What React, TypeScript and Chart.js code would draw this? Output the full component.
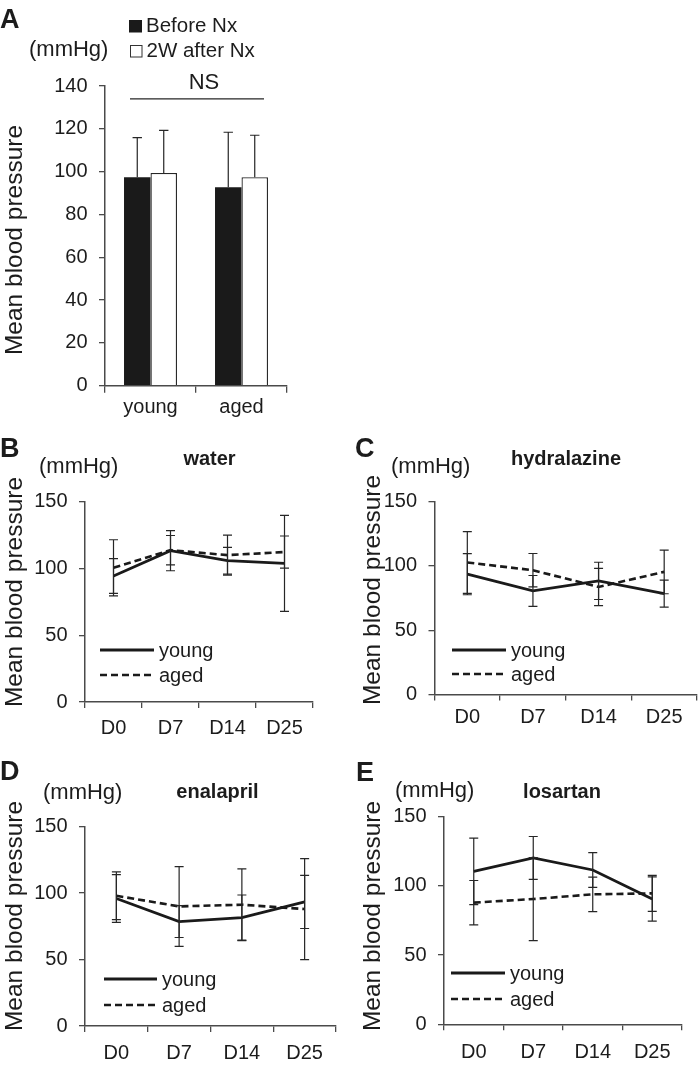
import React, { useEffect, useRef } from 'react';
import { Chart, registerables } from 'chart.js';

Chart.register(...registerables);

// ---------- DATA ----------
// Panel A
const groupLabels = ['young', 'aged'];
const barSeriesNames = ['Before Nx', '2W after Nx'];
const beforeMean = [97.4, 92.7];
const beforeSD = [18.5, 25.7];
const afterMean = [99.4, 97.4];
const afterSD = [19.9, 19.6];
const nsLabel = 'NS';
const nsLevel = 134;

// Panels B-E
const days = ['D0', 'D7', 'D14', 'D25'];
const lineSeriesNames = ['young', 'aged'];

const waterYoung = [94.3, 113.3, 105.8, 103.8];
const waterYoungSD = [13, 15, 10, 36];
const waterAged = [100.5, 113.7, 110, 112.3];
const waterAgedSD = [21, 11, 15, 12];

const hydralazineYoung = [93.6, 80.6, 88.4, 78.5];
const hydralazineYoungSD = [16, 12, 14.5, 10.5];
const hydralazineAged = [102.7, 96.7, 83.7, 95.4];
const hydralazineAgedSD = [24, 13, 14.5, 17];

const enalaprilYoung = [96, 78.6, 81.6, 93.4];
const enalaprilYoungSD = [18, 12, 17, 20];
const enalaprilAged = [98, 90, 91.3, 88];
const enalaprilAgedSD = [18, 30, 27, 38];

const losartanYoung = [110.5, 120.2, 111.5, 90.5];
const losartanYoungSD = [24, 15.5, 12.5, 16];
const losartanAged = [87.9, 90.5, 93.9, 94.6];
const losartanAgedSD = [16, 30, 12.5, 13];

const yTitle = 'Mean blood pressure';
const unitLabel = '(mmHg)';

// ---------- STYLE / LAYOUT ----------
const W = 698;
const H = 1066;
const FONT = "'Liberation Sans', Arial, Helvetica, sans-serif";
const TEXT = '#1c1c1c';
const AXIS = '#4a4a4a';
const INK = '#1a1a1a';

type Area = { left: number; top: number; right: number; bottom: number };

function drawText(
  ctx: CanvasRenderingContext2D,
  text: string,
  x: number,
  y: number,
  font: string,
  align: CanvasTextAlign = 'left',
  rotate = 0
) {
  ctx.save();
  ctx.fillStyle = TEXT;
  ctx.font = font;
  ctx.textAlign = align;
  ctx.textBaseline = 'alphabetic';
  ctx.translate(x, y);
  if (rotate) ctx.rotate(rotate);
  ctx.fillText(text, 0, 0);
  ctx.restore();
}

const errorBarPlugin = {
  id: 'errorBars',
  afterDatasetsDraw(chart: any, _args: any, opts: any) {
    const ctx = chart.ctx as CanvasRenderingContext2D;
    const ys = chart.scales.y;
    const cap = opts.cap ?? 4.5;
    chart.data.datasets.forEach((ds: any, i: number) => {
      const errs = ds.errors as number[] | undefined;
      if (!errs) return;
      const meta = chart.getDatasetMeta(i);
      ctx.save();
      ctx.strokeStyle = '#262626';
      ctx.lineWidth = 1.2;
      ctx.setLineDash([]);
      meta.data.forEach((el: any, j: number) => {
        const v = ds.data[j];
        const e = errs[j];
        const x = el.x;
        const yTop = ys.getPixelForValue(v + e);
        const yBot = opts.upOnly ? ys.getPixelForValue(v) : ys.getPixelForValue(v - e);
        ctx.beginPath();
        ctx.moveTo(x, yTop);
        ctx.lineTo(x, yBot);
        ctx.moveTo(x - cap, yTop);
        ctx.lineTo(x + cap, yTop);
        if (!opts.upOnly) {
          ctx.moveTo(x - cap, yBot);
          ctx.lineTo(x + cap, yBot);
        }
        ctx.stroke();
      });
      ctx.restore();
    });
  },
};

function axisOptions(area: Area, yMax: number, yStep: number, xPad: number, xTick: number) {
  const yWidth = 80;
  const xHeight = 50;
  return {
    layout: {
      padding: {
        left: area.left - yWidth,
        top: area.top,
        right: W - area.right,
        bottom: H - area.bottom - xHeight,
      },
    },
    scales: {
      x: {
        offset: true,
        afterFit: (s: any) => {
          s.height = xHeight;
        },
        grid: {
          offset: true,
          drawOnChartArea: false,
          drawTicks: true,
          tickLength: xTick,
          color: AXIS,
          lineWidth: 1.3,
        },
        border: { display: true, color: AXIS, width: 1.5 },
        ticks: {
          font: { family: FONT, size: 20 },
          color: TEXT,
          padding: xPad,
          autoSkip: false,
          maxRotation: 0,
        },
      },
      y: {
        min: 0,
        max: yMax,
        afterFit: (s: any) => {
          s.width = yWidth;
        },
        grid: {
          drawOnChartArea: false,
          drawTicks: true,
          tickLength: 6,
          color: AXIS,
          lineWidth: 1.3,
        },
        border: { display: true, color: AXIS, width: 1.5 },
        ticks: {
          stepSize: yStep,
          font: { family: FONT, size: 20 },
          color: TEXT,
          padding: 11.5,
        },
      },
    },
  };
}

function makeBarChart(canvas: HTMLCanvasElement) {
  const area: Area = { left: 105, top: 86, right: 287, bottom: 385.7 };
  const ax = axisOptions(area, 140, 20, 2.4, 7);
  const deco = {
    id: 'decoA',
    afterDraw(chart: any) {
      const ctx = chart.ctx as CanvasRenderingContext2D;
      drawText(ctx, 'A', 0, 28, `bold 27px ${FONT}`);
      drawText(ctx, unitLabel, 29, 56, `22px ${FONT}`);
      // legend
      ctx.save();
      ctx.fillStyle = INK;
      ctx.fillRect(129, 20, 13, 12.5);
      ctx.fillStyle = '#fff';
      ctx.strokeStyle = '#333';
      ctx.lineWidth = 1;
      ctx.fillRect(130.5, 45.5, 11.5, 11.5);
      ctx.strokeRect(130.5, 45.5, 11.5, 11.5);
      ctx.restore();
      drawText(ctx, chart.data.datasets[0].label, 146, 32, `20.5px ${FONT}`);
      drawText(ctx, chart.data.datasets[1].label, 146.5, 57, `20.5px ${FONT}`);
      // NS bracket
      const xs = chart.scales.x;
      const ys = chart.scales.y;
      const yNS = ys.getPixelForValue(nsLevel);
      const x0 = xs.getPixelForValue(0) - 20.5;
      const x1 = xs.getPixelForValue(1) + 22.5;
      ctx.save();
      ctx.strokeStyle = '#262626';
      ctx.lineWidth = 1.4;
      ctx.beginPath();
      ctx.moveTo(x0, yNS);
      ctx.lineTo(x1, yNS);
      ctx.stroke();
      ctx.restore();
      drawText(ctx, nsLabel, (x0 + x1) / 2 + 7, 89, `22px ${FONT}`, 'center');
      drawText(ctx, yTitle, 22, 240, `24.5px ${FONT}`, 'center', -Math.PI / 2);
    },
  };
  return new Chart(canvas, {
    type: 'bar',
    data: {
      labels: groupLabels,
      datasets: [
        {
          label: barSeriesNames[0],
          data: beforeMean,
          errors: beforeSD,
          backgroundColor: INK,
          borderColor: INK,
          borderWidth: 0,
        } as any,
        {
          label: barSeriesNames[1],
          data: afterMean,
          errors: afterSD,
          backgroundColor: '#ffffff',
          borderColor: '#262626',
          borderWidth: 1.3,
        } as any,
      ],
    },
    options: {
      responsive: false,
      animation: false,
      devicePixelRatio: 1,
      ...ax,
      datasets: { bar: { categoryPercentage: 0.582, barPercentage: 1 } },
      plugins: {
        legend: { display: false },
        tooltip: { enabled: false },
        errorBars: { upOnly: true, cap: 4.7 },
      } as any,
    } as any,
    plugins: [errorBarPlugin, deco],
  });
}

type LinePanel = {
  letter: string;
  title: string;
  young: number[];
  youngSD: number[];
  aged: number[];
  agedSD: number[];
  area: Area;
  letterPos: [number, number];
  unitPos: [number, number];
  titlePos: [number, number];
  yTitlePos: [number, number];
  legend: { x1: number; x2: number; y1: number; y2: number };
  xPad: number;
};

const linePanels: LinePanel[] = [
  {
    letter: 'B',
    title: 'water',
    young: waterYoung,
    youngSD: waterYoungSD,
    aged: waterAged,
    agedSD: waterAgedSD,
    area: { left: 85, top: 501.7, right: 313, bottom: 702 },
    letterPos: [0, 457],
    unitPos: [39, 473],
    titlePos: [209.5, 465],
    yTitlePos: [22, 592],
    legend: { x1: 100, x2: 154, y1: 650, y2: 675 },
    xPad: 8,
  },
  {
    letter: 'C',
    title: 'hydralazine',
    young: hydralazineYoung,
    youngSD: hydralazineYoungSD,
    aged: hydralazineAged,
    agedSD: hydralazineAgedSD,
    area: { left: 434.5, top: 501.7, right: 697, bottom: 694.5 },
    letterPos: [355, 457],
    unitPos: [391, 473],
    titlePos: [566, 465],
    yTitlePos: [380, 590],
    legend: { x1: 452, x2: 506, y1: 650, y2: 674 },
    xPad: 5,
  },
  {
    letter: 'D',
    title: 'enalapril',
    young: enalaprilYoung,
    youngSD: enalaprilYoungSD,
    aged: enalaprilAged,
    agedSD: enalaprilAgedSD,
    area: { left: 85, top: 826.7, right: 336, bottom: 1026 },
    letterPos: [0, 780],
    unitPos: [43, 799],
    titlePos: [217.5, 798],
    yTitlePos: [22, 916],
    legend: { x1: 104, x2: 157, y1: 979, y2: 1005 },
    xPad: 9,
  },
  {
    letter: 'E',
    title: 'losartan',
    young: losartanYoung,
    youngSD: losartanYoungSD,
    aged: losartanAged,
    agedSD: losartanAgedSD,
    area: { left: 444, top: 816.7, right: 682, bottom: 1024.3 },
    letterPos: [356, 781],
    unitPos: [395, 797],
    titlePos: [562, 798],
    yTitlePos: [380, 916],
    legend: { x1: 451, x2: 505, y1: 973, y2: 999 },
    xPad: 10.5,
  },
];

const YOUNG_W = 2.8;
const AGED_W = 2.6;
const AGED_DASH = [7, 4];

function makeLineChart(canvas: HTMLCanvasElement, p: LinePanel) {
  const ax = axisOptions(p.area, 150, 50, p.xPad, 6);
  const deco = {
    id: 'deco' + p.letter,
    afterDraw(chart: any) {
      const ctx = chart.ctx as CanvasRenderingContext2D;
      drawText(ctx, p.letter, p.letterPos[0], p.letterPos[1], `bold 27px ${FONT}`);
      drawText(ctx, unitLabel, p.unitPos[0], p.unitPos[1], `22px ${FONT}`);
      drawText(ctx, p.title, p.titlePos[0], p.titlePos[1], `bold 20px ${FONT}`, 'center');
      drawText(ctx, yTitle, p.yTitlePos[0], p.yTitlePos[1], `24.5px ${FONT}`, 'center', -Math.PI / 2);
      // legend
      const L = p.legend;
      const dsets = chart.data.datasets;
      ctx.save();
      ctx.strokeStyle = INK;
      ctx.lineWidth = YOUNG_W;
      ctx.setLineDash([]);
      ctx.beginPath();
      ctx.moveTo(L.x1, L.y1);
      ctx.lineTo(L.x2, L.y1);
      ctx.stroke();
      ctx.lineWidth = AGED_W;
      ctx.setLineDash(AGED_DASH);
      ctx.beginPath();
      ctx.moveTo(L.x1, L.y2);
      ctx.lineTo(L.x2, L.y2);
      ctx.stroke();
      ctx.restore();
      drawText(ctx, dsets[0].label, L.x2 + 5, L.y1 + 7, `20px ${FONT}`);
      drawText(ctx, dsets[1].label, L.x2 + 5, L.y2 + 7, `20px ${FONT}`);
    },
  };
  return new Chart(canvas, {
    type: 'line',
    data: {
      labels: days,
      datasets: [
        {
          label: lineSeriesNames[0],
          data: p.young,
          errors: p.youngSD,
          borderColor: INK,
          borderWidth: YOUNG_W,
          pointRadius: 0,
          fill: false,
          tension: 0,
        } as any,
        {
          label: lineSeriesNames[1],
          data: p.aged,
          errors: p.agedSD,
          borderColor: INK,
          borderWidth: AGED_W,
          borderDash: AGED_DASH,
          pointRadius: 0,
          fill: false,
          tension: 0,
        } as any,
      ],
    },
    options: {
      responsive: false,
      animation: false,
      devicePixelRatio: 1,
      ...ax,
      plugins: {
        legend: { display: false },
        tooltip: { enabled: false },
        errorBars: { upOnly: false, cap: 4.5 },
      } as any,
    } as any,
    plugins: [errorBarPlugin, deco],
  });
}

export default function App() {
  const refs = useRef<(HTMLCanvasElement | null)[]>([]);
  useEffect(() => {
    const c = refs.current;
    const charts: Chart[] = [];
    if (c[0]) charts.push(makeBarChart(c[0]));
    linePanels.forEach((p, i) => {
      const el = c[i + 1];
      if (el) charts.push(makeLineChart(el, p));
    });
    return () => charts.forEach((ch) => ch.destroy());
  }, []);
  return (
    <div
      style={{
        position: 'absolute',
        left: 0,
        top: 0,
        width: W,
        height: H,
        background: '#ffffff',
        overflow: 'hidden',
      }}
    >
      {[0, 1, 2, 3, 4].map((i) => (
        <canvas
          key={i}
          ref={(el) => {
            refs.current[i] = el;
          }}
          width={W}
          height={H}
          style={{ position: 'absolute', left: 0, top: 0, width: W, height: H }}
        />
      ))}
    </div>
  );
}
